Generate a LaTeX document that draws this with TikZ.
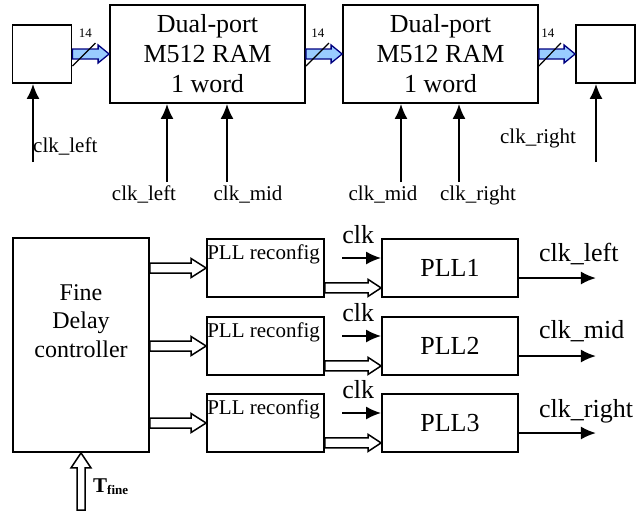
\documentclass[tikz,border=0pt]{standalone}
\usepackage{fontspec}
\setmainfont{Liberation Serif}
\usepackage{xcolor}
\usepackage{tikz}
\usetikzlibrary{arrows.meta,calc}
\definecolor{busfill}{RGB}{153, 204, 255}
\definecolor{busline}{RGB}{0, 0, 128}

% wide arrow: [style]{from}{to}{half shaft}{half head}{head length}
\newcommand{\fatarrow}[6][]{%
  \coordinate (fa-a) at (#2);
  \coordinate (fa-b) at (#3);
  \coordinate (fa-c) at ($(fa-b)!#6!(fa-a)$);
  \draw[#1] ($(fa-a)!#4!90:(fa-b)$) -- ($(fa-c)!#4!-90:(fa-a)$) -- ($(fa-c)!#5!-90:(fa-a)$)
     -- (fa-b) -- ($(fa-c)!#5!90:(fa-a)$) -- ($(fa-c)!#4!90:(fa-a)$) -- ($(fa-a)!#4!-90:(fa-b)$) -- cycle;}

\begin{document}
\begin{tikzpicture}[x=1pt, y=-1pt,
            box/.style = {draw, line width=1.8pt, inner sep=0pt},
            ram/.style = {box, minimum width=195pt, minimum height=98pt, align=center, font=\fontsize{26}{30}\selectfont},
            reg/.style = {box, minimum width=59pt, minimum height=58pt},
         reconf/.style = {box, minimum width=117pt, minimum height=58pt},
            pll/.style = {box, minimum width=136pt, minimum height=58pt, font=\fontsize{26}{30}\selectfont},
          small/.style = {inner sep=0pt, font=\fontsize{21}{24}\selectfont},
            big/.style = {inner sep=0pt, font=\fontsize{26}{30}\selectfont},
        clkline/.style = {line width=1.8pt, -{Latex[length=15pt, width=13pt]}},
            bus/.style = {draw=busline, fill=busfill, line width=1.3pt, line join=miter},
         hollow/.style = {draw, fill=white, line width=1.5pt, line join=miter}]
        \useasboundingbox (0,0) rectangle (642,512);

        % RAM chain
        \node[reg] (lbox) at (42,54) {};
        \node[ram] (ram1) at (207.5,54) {Dual-port\\M512 RAM\\1 word};
        \node[ram] (ram2) at (440.5,54) {Dual-port\\M512 RAM\\1 word};
        \node[reg] (rbox) at (605.5,54) {};

        \fatarrow[bus]{lbox.east}{ram1.west}{5pt}{9pt}{11pt}
        \fatarrow[bus]{ram1.east}{ram2.west}{5pt}{9pt}{11pt}
        \fatarrow[bus]{ram2.east}{rbox.west}{5pt}{9pt}{11pt}
        \draw[line width=1.2pt] ($(lbox.east)+(0,12)$) -- ++(23,-23);
        \draw[line width=1.2pt] ($(ram1.east)+(0,12)$) -- ++(23,-23);
        \draw[line width=1.2pt] ($(ram2.east)+(0,12)$) -- ++(22,-23);
        \node[inner sep=0pt, font=\fontsize{13}{15}\selectfont] (w1) at ($(lbox.east)+(13,-21)$) {14};
        \node[inner sep=0pt, font=\fontsize{13}{15}\selectfont] (w2) at ($(ram1.east)+(12,-21)$) {14};
        \node[inner sep=0pt, font=\fontsize{13}{15}\selectfont] (w3) at ($(ram2.east)+(9,-21)$) {14};

        % clocks of the chain
        \coordinate (ck0) at (33,162);
        \coordinate (ck1) at (167,182);
        \coordinate (ck2) at (227,182);
        \coordinate (ck3) at (401,182);
        \coordinate (ck4) at (459,182);
        \coordinate (ck5) at (596,162);
        \draw[clkline] (ck0) -- (ck0 |- lbox.south);
        \draw[clkline] (ck1) -- (ck1 |- ram1.south);
        \draw[clkline] (ck2) -- (ck2 |- ram1.south);
        \draw[clkline] (ck3) -- (ck3 |- ram2.south);
        \draw[clkline] (ck4) -- (ck4 |- ram2.south);
        \draw[clkline] (ck5) -- (ck5 |- rbox.south);
        \node[small, anchor=base west] (l0) at (33,152) {clk\_left};
        \node[small, anchor=base] (l1) at (144,200) {clk\_left};
        \node[small, anchor=base] (l2) at (248,200) {clk\_mid};
        \node[small, anchor=base] (l3) at (383,200) {clk\_mid};
        \node[small, anchor=base] (l4) at (478,200) {clk\_right};
        \node[small, anchor=base] (l5) at (538,143) {clk\_right};

        % delay control
        \node[box, minimum width=136pt, minimum height=214pt] (ctrl) at (81,345) {};
        \node[align=center, inner sep=0pt, font=\fontsize{24}{28.5}\selectfont] (ctrltext) at (81,321) {Fine\\Delay\\controller};
        \coordinate (tin) at (81,510);
        \fatarrow[hollow]{tin}{ctrl.south}{4pt}{10pt}{15pt}
        \node[anchor=base west, inner sep=0pt] (tfine) at (93,492) {\fontsize{21}{24}\selectfont\bfseries T\raisebox{-2pt}{\fontsize{13}{15}\selectfont fine}};

        \node[reconf] (rc1) at (265.5,268) {};
        \node[reconf] (rc2) at (265.5,346) {};
        \node[reconf] (rc3) at (265.5,423) {};
        \node[small, anchor=base west] (t1) at ($(rc1.north west)+(1,21)$) {PLL reconfig};
        \node[small, anchor=base west] (t2) at ($(rc2.north west)+(1,21)$) {PLL reconfig};
        \node[small, anchor=base west] (t3) at ($(rc3.north west)+(1,21)$) {PLL reconfig};

        \node[pll] (pll1) at (450,268) {PLL1};
        \node[pll] (pll2) at (450,346) {PLL2};
        \node[pll] (pll3) at (450,423) {PLL3};

        \fatarrow[hollow]{ctrl.east |- rc1.west}{rc1.west}{5pt}{9.5pt}{15pt}
        \fatarrow[hollow]{ctrl.east |- rc2.west}{rc2.west}{5pt}{9.5pt}{15pt}
        \fatarrow[hollow]{ctrl.east |- rc3.west}{rc3.west}{5pt}{9.5pt}{15pt}

        \coordinate (r1) at ($(rc1.south east)+(0,-10)$);
        \coordinate (r2) at ($(rc2.south east)+(0,-10)$);
        \coordinate (r3) at ($(rc3.south east)+(0,-10)$);
        \fatarrow[hollow]{r1}{r1 -| pll1.west}{5pt}{8.5pt}{13pt}
        \fatarrow[hollow]{r2}{r2 -| pll2.west}{5pt}{8.5pt}{13pt}
        \fatarrow[hollow]{r3}{r3 -| pll3.west}{5pt}{8.5pt}{13pt}

        % PLL clocks in and out
        \coordinate (c1) at ($(pll1.west)+(-39,-10)$);
        \coordinate (c2) at ($(pll2.west)+(-39,-10)$);
        \coordinate (c3) at ($(pll3.west)+(-39,-10)$);
        \draw[clkline] (c1) -- (c1 -| pll1.west);
        \draw[clkline] (c2) -- (c2 -| pll2.west);
        \draw[clkline] (c3) -- (c3 -| pll3.west);
        \node[big, anchor=base west] (k1) at ($(c1)+(0,-15)$) {clk};
        \node[big, anchor=base west] (k2) at ($(c2)+(0,-15)$) {clk};
        \node[big, anchor=base west] (k3) at ($(c3)+(0,-15)$) {clk};

        \coordinate (o1) at ($(pll1.east)+(0,10)$);
        \coordinate (o2) at ($(pll2.east)+(0,10)$);
        \coordinate (o3) at ($(pll3.east)+(0,10)$);
        \coordinate (e1) at ($(o1)+(77,0)$);
        \coordinate (e2) at ($(o2)+(77,0)$);
        \coordinate (e3) at ($(o3)+(77,0)$);
        \draw[clkline] (o1) -- (e1);
        \draw[clkline] (o2) -- (e2);
        \draw[clkline] (o3) -- (e3);
        \node[big, anchor=base west] (q1) at ($(o1)+(20,-17)$) {clk\_left};
        \node[big, anchor=base west] (q2) at ($(o2)+(20,-18)$) {clk\_mid};
        \node[big, anchor=base west] (q3) at ($(o3)+(20,-16)$) {clk\_right};
\end{tikzpicture}
\end{document}
